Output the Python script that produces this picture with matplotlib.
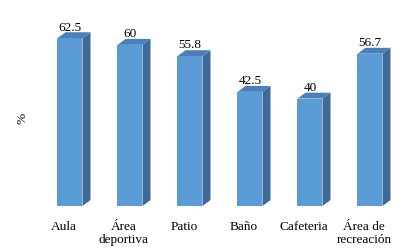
import numpy as np
import matplotlib.pyplot as plt
from matplotlib.patches import Polygon

# datos
categorias = ['Aula', 'Área\ndeportiva', 'Patio', 'Baño', 'Cafeteria', 'Área de\nrecreación']
valores = [62.5, 60, 55.8, 42.5, 40, 56.7]
etiquetas = ['62.5', '60', '55.8', '42.5', '40', '56.7']

plt.rcParams['font.family'] = ['Liberation Serif', 'DejaVu Serif']

fig = plt.figure(figsize=(4.06, 2.53), dpi=100)
ax = fig.add_axes([34 / 406, 46 / 253, 360 / 406, 188 / 253])

ancho = 25 / 60   # ancho de la cara frontal
dx = 8 / 60       # profundidad horizontal
dy = 2.2          # profundidad vertical (en %)
desp = 0.1        # desplazamiento de la barra respecto a la etiqueta

c_frente = '#5b9bd5'
c_lado = '#3d6a99'
c_arriba = '#4a80ba'

x = np.arange(len(categorias))
for xi, v, txt in zip(x, valores, etiquetas):
    xc = xi + desp
    x0 = xc - ancho / 2
    x1 = xc + ancho / 2
    ax.bar(xc, v, width=ancho, color=c_frente, edgecolor='none', zorder=2)
    lado = Polygon([(x1, 0), (x1 + dx, dy), (x1 + dx, v + dy), (x1, v)],
                   closed=True, facecolor=c_lado, edgecolor='none', zorder=2)
    arriba = Polygon([(x0, v), (x0 + dx, v + dy), (x1 + dx, v + dy), (x1, v)],
                     closed=True, facecolor=c_arriba, edgecolor='none', zorder=2)
    ax.add_patch(lado)
    ax.add_patch(arriba)
    ax.text(xc, v + dy - 0.1, txt, ha='center', va='bottom', fontsize=9.5)

ax.set_xlim(-0.5, len(categorias) - 0.5)
ax.set_ylim(0, 70)
ax.set_xticks(x)
ax.set_xticklabels(categorias, fontsize=9.5, linespacing=1.1)
ax.tick_params(axis='x', length=0, pad=10)
ax.set_yticks([])
for s in ax.spines.values():
    s.set_visible(False)

fig.text(23 / 406, 1 - 118 / 253, '%', rotation=90, ha='center', va='center', fontsize=9.5)

fig.savefig('out.png', dpi=100)
